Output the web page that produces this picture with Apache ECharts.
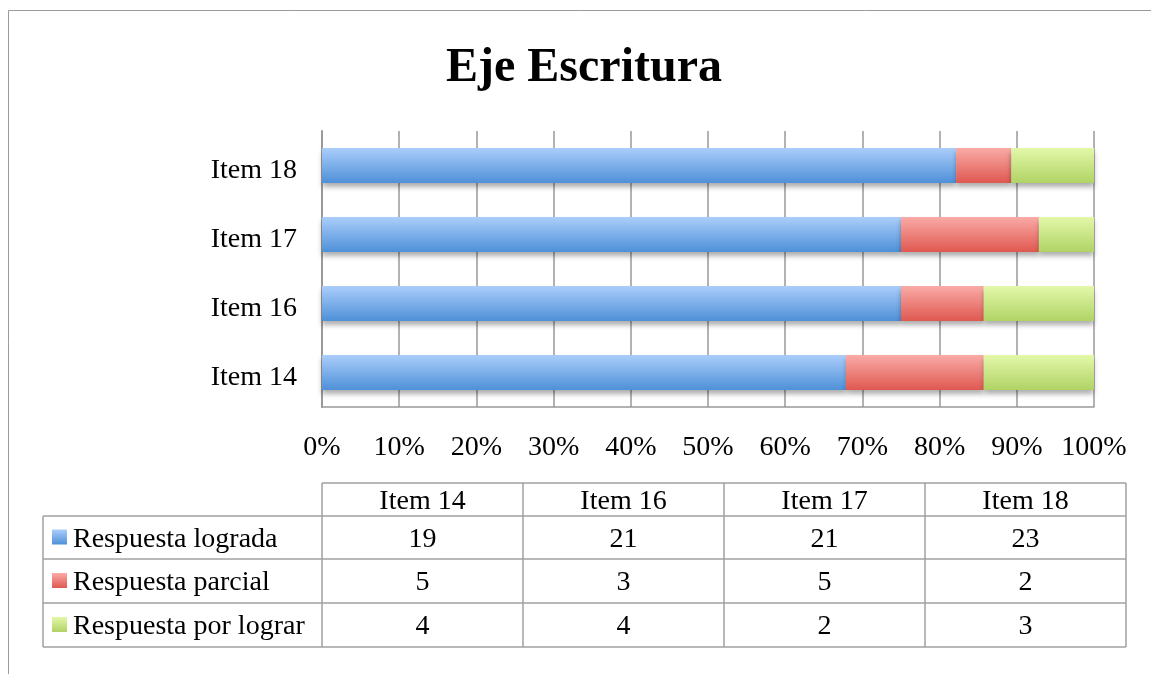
<!DOCTYPE html>
<html>
<head>
<meta charset="utf-8">
<script src="https://cdn.jsdelivr.net/npm/echarts@6/dist/echarts.min.js"></script>
<style>
html,body{margin:0;padding:0;background:#fff;}
#chart{width:1151px;height:674px;}
</style>
</head>
<body>
<div id="chart"></div>
<script>
// ---- data ----
var titleText = 'Eje Escritura';
var categories = ['Item 14', 'Item 16', 'Item 17', 'Item 18'];
var seriesNames = ['Respuesta lograda', 'Respuesta parcial', 'Respuesta por lograr'];
var logrado = [19, 21, 21, 23];
var parcial = [5, 3, 5, 2];
var porLograr = [4, 4, 2, 3];
var xTicks = [0, 10, 20, 30, 40, 50, 60, 70, 80, 90, 100];

var rawSeries = [logrado, parcial, porLograr];
var totals = categories.map(function (c, i) {
  return rawSeries.reduce(function (s, arr) { return s + arr[i]; }, 0);
});

var FONT = '"Liberation Serif", "DejaVu Serif", serif';
var FS = 28;
var gradients = [
  ['#abcefb', '#4e90d8'],
  ['#faaba7', '#df5850'],
  ['#e3f8a9', '#b0d365']
];
function grad(g) {
  return new echarts.graphic.LinearGradient(0, 0, 0, 1, [
    { offset: 0, color: g[0] }, { offset: 1, color: g[1] }
  ]);
}

var chart = echarts.init(document.getElementById('chart'), null, { renderer: 'canvas' });

var series = rawSeries.map(function (arr, k) {
  return {
    name: seriesNames[k],
    type: 'bar',
    stack: 'total',
    barWidth: 35,
    silent: true,
    itemStyle: {
      color: grad(gradients[k]),
      shadowColor: 'rgba(0,0,0,0.32)',
      shadowBlur: 5,
      shadowOffsetY: 4
    },
    data: arr.map(function (v, i) { return v / totals[i] * 100; })
  };
});

// ---- table (graphic) ----
var tblLeft = 43, colStart = 322, colW = 201;
var rowY = [483, 516, 559, 603, 647];
var lineColor = '#a0a0a0';
var g = [];
// outer frame
g.push({ type: 'line', shape: { x1: 8.5, y1: 10.5, x2: 1151, y2: 10.5 }, style: { stroke: '#9a9a9a', lineWidth: 1 } });
g.push({ type: 'line', shape: { x1: 8.5, y1: 10.5, x2: 8.5, y2: 674 }, style: { stroke: '#9a9a9a', lineWidth: 1 } });
// title
g.push({ type: 'text', x: 584, y: 69, style: { text: titleText, font: 'bold 48px ' + FONT, fill: '#000', align: 'center', verticalAlign: 'middle' } });

var tblRight = colStart + colW * categories.length;
// horizontal lines
g.push({ type: 'line', shape: { x1: colStart, y1: rowY[0], x2: tblRight, y2: rowY[0] }, style: { stroke: lineColor, lineWidth: 1.5 } });
for (var r = 1; r < rowY.length; r++) {
  g.push({ type: 'line', shape: { x1: tblLeft, y1: rowY[r], x2: tblRight, y2: rowY[r] }, style: { stroke: lineColor, lineWidth: 1.5 } });
}
// vertical lines
g.push({ type: 'line', shape: { x1: tblLeft, y1: rowY[1], x2: tblLeft, y2: rowY[4] }, style: { stroke: lineColor, lineWidth: 1.5 } });
for (var c = 0; c <= categories.length; c++) {
  var xx = colStart + c * colW;
  g.push({ type: 'line', shape: { x1: xx, y1: rowY[0], x2: xx, y2: rowY[4] }, style: { stroke: lineColor, lineWidth: 1.5 } });
}
// header
categories.forEach(function (cat, i) {
  g.push({ type: 'text', x: colStart + colW * i + colW / 2, y: (rowY[0] + rowY[1]) / 2 + 2,
    style: { text: cat, font: FS + 'px ' + FONT, fill: '#000', align: 'center', verticalAlign: 'middle' } });
});
// rows
rawSeries.forEach(function (arr, k) {
  var cy = (rowY[k + 1] + rowY[k + 2]) / 2;
  g.push({ type: 'rect', shape: { x: 52, y: cy - 8, width: 15, height: 15 }, style: { fill: grad(gradients[k]) } });
  g.push({ type: 'text', x: 73, y: cy + 2, style: { text: seriesNames[k], font: FS + 'px ' + FONT, fill: '#000', align: 'left', verticalAlign: 'middle' } });
  arr.forEach(function (v, i) {
    g.push({ type: 'text', x: colStart + colW * i + colW / 2, y: cy + 2,
      style: { text: String(v), font: FS + 'px ' + FONT, fill: '#000', align: 'center', verticalAlign: 'middle' } });
  });
});

chart.setOption({
  animation: false,
  backgroundColor: '#fff',
  grid: { left: 322, right: 57, top: 131, height: 276, containLabel: false },
  xAxis: {
    type: 'value',
    min: xTicks[0], max: xTicks[xTicks.length - 1], interval: 10,
    axisLine: { show: true, lineStyle: { color: '#999', width: 1.5 } },
    axisTick: { show: false },
    splitLine: { show: true, lineStyle: { color: '#999', width: 1.5 } },
    axisLabel: { formatter: '{value}%', margin: 27, color: '#000', fontFamily: FONT, fontSize: FS }
  },
  yAxis: {
    type: 'category',
    data: categories,
    axisLine: { show: true, lineStyle: { color: '#999', width: 2 } },
    axisTick: { show: false },
    axisLabel: {
      margin: 25,
      formatter: function (v) { return '{a|' + v + '}'; },
      rich: { a: { color: '#000', fontFamily: FONT, fontSize: FS, padding: [10, 0, 0, 0] } }
    }
  },
  series: series,
  graphic: { elements: g }
});
</script>
</body>
</html>
